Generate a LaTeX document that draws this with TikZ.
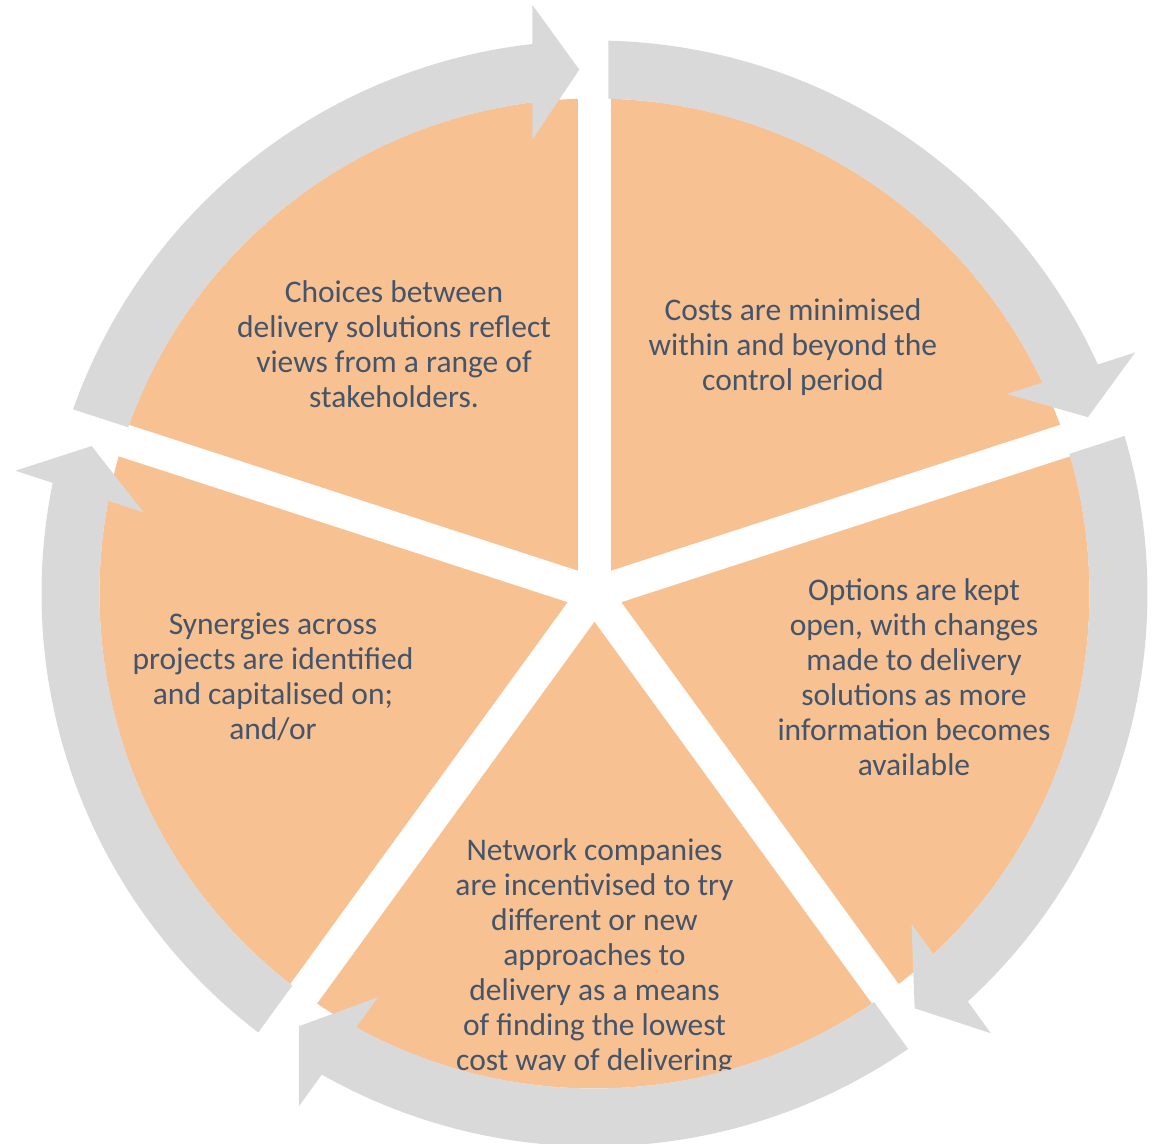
\documentclass[tikz,border=0pt]{standalone}
\usepackage{fontspec}
\setmainfont{Carlito}
\definecolor{PieOrange}{RGB}{248,193,145}
\definecolor{ArrowGray}{RGB}{217,217,217}
\definecolor{SlateText}{RGB}{68,84,106}

\begin{document}
\begin{tikzpicture}[x=0.5pt, y=0.5pt,
    gapbar/.style={white, line width=16.5pt},
    segtext/.style={align=center, text=SlateText, inner sep=0pt,
      font=\fontsize{15.75}{17.5}\selectfont}]
    \useasboundingbox (-594.5,-550.5) rectangle (558.5,593.5);

    % orange disc, split by five white spokes
    \fill[PieOrange] (0,0) circle [radius=495];
    \foreach \a in {90,18,-54,-126,162}
        \draw[gapbar] (0,0) -- (\a:620);

    \node[segtext] (choices) at (-200.5,249) {Choices between\\delivery solutions reflect\\views from a range of\\stakeholders.};
    \node[segtext] (costs) at (198.5,246.5) {Costs are minimised\\within and beyond the\\control period};
    \node[segtext] (options) at (319.5,-83.5) {Options are kept\\open, with changes\\made to delivery\\solutions as more\\information becomes\\available};
    \node[segtext] (synergies) at (-321.5,-83.5) {Synergies across\\projects are identified\\and capitalised on;\\and/or};
    \begin{scope}
        \clip (-600,-477) rectangle (600,0);
        \node[segtext] (network) at (0,-364) {Network companies\\are incentivised to try\\different or new\\approaches to\\delivery as a means\\of finding the lowest\\cost way of delivering};
    \end{scope}

    % gray cycle arrows, one per segment
    \foreach \k in {0,...,4}
        \fill[ArrowGray, rotate=-72*\k] (160.55:553) arc[start angle=160.55, end angle=96.46, radius=553]
            -- (-62.2,588.7) -- (-15.2,523.8) -- (-62.2,453.8)
            -- (97.22:495) arc[start angle=97.22, end angle=160.38, radius=495] -- cycle;
\end{tikzpicture}
\end{document}
